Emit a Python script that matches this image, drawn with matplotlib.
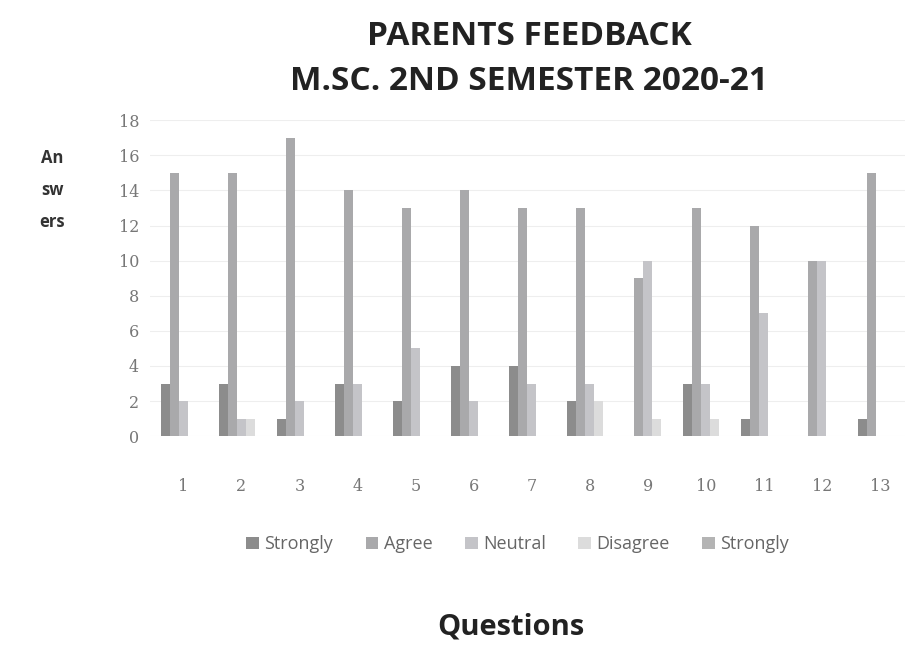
import matplotlib
matplotlib.use("Agg")
import matplotlib.pyplot as plt
import numpy as np

categories = ["1", "2", "3", "4", "5", "6", "7", "8", "9", "10", "11", "12", "13"]
series_names = ["Strongly", "Agree", "Neutral", "Disagree", "Strongly"]
strongly_agree    = [3, 3, 1, 3, 2, 4, 4, 2, 0, 3, 1, 0, 1]
agree             = [15, 15, 17, 14, 13, 14, 13, 13, 9, 13, 12, 10, 15]
neutral           = [2, 1, 2, 3, 5, 2, 3, 3, 10, 3, 7, 10, 0]
disagree          = [0, 1, 0, 0, 0, 0, 0, 2, 1, 1, 0, 0, 0]
strongly_disagree = [0, 0, 0, 0, 0, 0, 0, 0, 0, 0, 0, 0, 0]
yticks = [0, 2, 4, 6, 8, 10, 12, 14, 16, 18]

series = [strongly_agree, agree, neutral, disagree, strongly_disagree]
colors = ["#8c8c8c", "#a9a9ab", "#c4c4c8", "#dcdcdc", "#b4b4b4"]

fig = plt.figure(figsize=(9.05, 6.68), dpi=100)
ax = fig.add_axes([0.166, 0.347, 0.834, 0.473])

x = np.arange(len(categories))
w = 0.155
for i, (vals, c, name) in enumerate(zip(series, colors, series_names)):
    ax.bar(x + (i - 2) * w, vals, width=w, color=c, label=name, zorder=3)

ax.set_ylim(0, 18)
ax.set_xlim(-0.57, 12.43)
ax.set_yticks(yticks)
ax.set_xticks(x)
ax.set_xticklabels(categories)
ax.yaxis.grid(True, color="#eeeeee", linewidth=0.8, zorder=0)
for s in ax.spines.values():
    s.set_visible(False)
ax.tick_params(length=0, colors="#777777", labelsize=11.5)
for lab in ax.get_xticklabels() + ax.get_yticklabels():
    lab.set_family("DejaVu Serif")
ax.tick_params(axis="y", pad=8)
ax.tick_params(axis="x", pad=30)

fig.text(0.585, 0.945, "PARENTS FEEDBACK", ha="center", va="center",
         fontsize=24, fontweight="bold", family="Open Sans", color="#222222")
fig.text(0.585, 0.878, "M.SC. 2ND SEMESTER 2020-21", ha="center", va="center",
         fontsize=24, fontweight="bold", family="Open Sans", color="#222222")
fig.text(0.058, 0.716, "An\nsw\ners", ha="center", va="center", fontsize=12,
         fontweight="bold", family="Open Sans", color="#333333", linespacing=2.0)
fig.text(0.565, 0.062, "Questions", ha="center", va="center", fontsize=21,
         fontweight="bold", family="Open Sans", color="#222222")

leg = fig.legend(loc="center", bbox_to_anchor=(0.572, 0.185), ncol=5, frameon=False,
                 handlelength=0.7, handleheight=0.7, handletextpad=0.3, columnspacing=1.8,
                 prop={"family": "Open Sans", "size": 13})
for t in leg.get_texts():
    t.set_color("#666666")

fig.savefig("out.png", dpi=100)
